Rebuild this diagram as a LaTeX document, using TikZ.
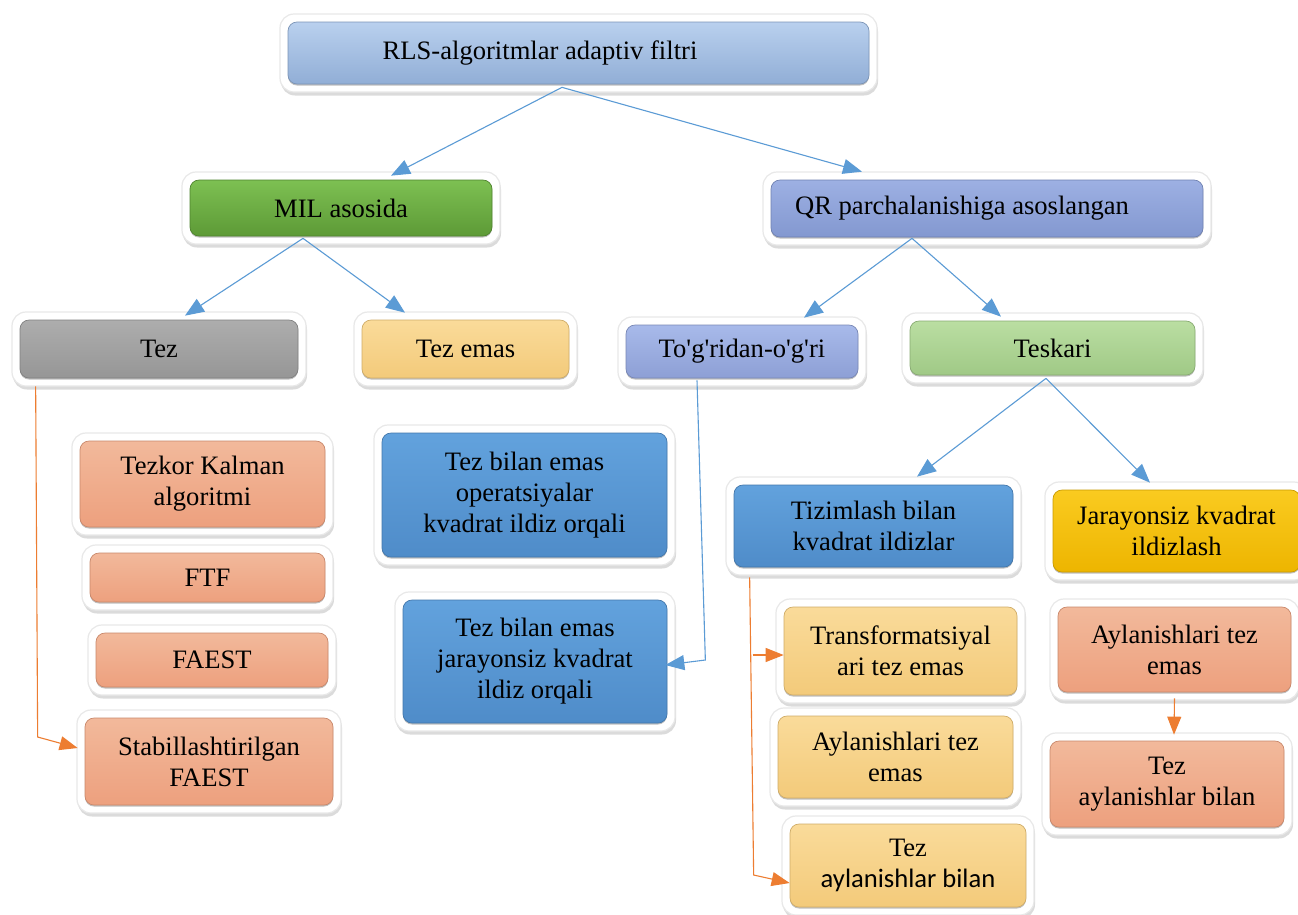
\documentclass[tikz,border=0pt]{standalone}
\usepackage{fontspec}
\setmainfont{Liberation Serif}
\newfontfamily\calib{Carlito}
\usetikzlibrary{arrows.meta,shadows,calc}
\definecolor{lnblue}{HTML}{5B9BD5}
\definecolor{lnorange}{HTML}{ED7D31}
\definecolor{topT}{HTML}{B9D0EE}\definecolor{topB}{HTML}{91AED6}
\definecolor{grnT}{HTML}{7DC052}\definecolor{grnB}{HTML}{5D9A36}
\definecolor{qrT}{HTML}{9DB0E3}\definecolor{qrB}{HTML}{8398D0}
\definecolor{gryT}{HTML}{ADADAD}\definecolor{gryB}{HTML}{969696}
\definecolor{ylT}{HTML}{FADB9A}\definecolor{ylB}{HTML}{F3CA7A}
\definecolor{tgT}{HTML}{A8BAEA}\definecolor{tgB}{HTML}{8D9FD5}
\definecolor{tsT}{HTML}{BADEA2}\definecolor{tsB}{HTML}{A0C986}
\definecolor{slT}{HTML}{F2B99B}\definecolor{slB}{HTML}{EDA07E}
\definecolor{bluT}{HTML}{62A2DD}\definecolor{bluB}{HTML}{4F8CC9}
\definecolor{goT}{HTML}{FACB20}\definecolor{goB}{HTML}{EDB500}
\tikzset{
  frm/.style={fill=white, draw=black!9, line width=1.2pt, rounded corners=14pt,
    drop shadow={shadow xshift=1pt, shadow yshift=-3.5pt, fill=black, opacity=0.14}},
  inbox/.style={rounded corners=9pt, line width=0.7pt, align=center, inner sep=0pt,
    font=\fontsize{26.6}{31}\selectfont, text=black,
    drop shadow={shadow xshift=0pt, shadow yshift=-1.5pt, fill=black, opacity=0.25}},
  bl/.style={draw=lnblue, line width=1.1pt, -{Triangle[length=19pt,width=15pt]}},
  orl/.style={draw=lnorange, line width=1.1pt, -{Triangle[length=18pt,width=14pt]}}
}
\newcommand\bx[8]{%
  \path[frm] ($(#2,#3)+(-8,-8)$) rectangle ($(#4,#5)+(8,8)$);
  \node[inbox, top color=#6, bottom color=#7, draw=#7!85!black,
    minimum width={(#4-#2)*1pt}, minimum height={(#5-#3)*1pt}]
    (#1) at ({(#2+#4)/2},{(#3+#5)/2}) {#8};
}
\begin{document}
\begin{tikzpicture}[x=1pt,y=-1pt]
\useasboundingbox[fill=white] (0,0) rectangle (1298,914);
% level 0
\bx{top}{288}{22}{869}{84}{topT}{topB}{RLS-algoritmlar adaptiv filtri\hspace*{77pt}}
% level 1
\bx{mil}{190}{180}{492}{236}{grnT}{grnB}{MIL asosida}
\bx{qr}{771}{180}{1203}{237}{qrT}{qrB}{QR parchalanishiga asoslangan\hspace*{50pt}}
% level 2
\bx{tez}{20}{320}{298}{378}{gryT}{gryB}{Tez}
\bx{tezemas}{362}{320}{569}{378}{ylT}{ylB}{Tez emas}
\bx{togri}{626}{325}{858}{378}{tgT}{tgB}{To\textquotesingle g\textquotesingle ridan-o\textquotesingle g\textquotesingle ri}
\bx{teskari}{910}{321}{1195}{375}{tsT}{tsB}{Teskari}
% left column
\bx{kalman}{80}{441}{325}{527}{slT}{slB}{Tezkor Kalman\\algoritmi}
\bx{ftf}{90}{553}{325}{602}{slT}{slB}{FTF}
\bx{faest}{96}{633}{328}{687}{slT}{slB}{FAEST}
\bx{stab}{85}{718}{333}{805}{slT}{slB}{Stabillashtirilgan\\FAEST}
% middle column
\bx{oper}{382}{433}{667}{557}{bluT}{bluB}{Tez bilan emas\\operatsiyalar\\kvadrat ildiz orqali}
\bx{jar1}{403}{600}{667}{723}{bluT}{bluB}{Tez bilan emas\\jarayonsiz kvadrat\\ildiz orqali}
% right part
\bx{tiz}{734}{485}{1013}{567}{bluT}{bluB}{Tizimlash bilan\\kvadrat ildizlar}
\bx{jar2}{1053}{490}{1300}{572}{goT}{goB}{Jarayonsiz kvadrat\\ildizlash}
\bx{trans}{784}{607}{1017}{695}{ylT}{ylB}{Transformatsiyal\\ari tez emas}
\bx{ayl1}{778}{716}{1013}{798}{ylT}{ylB}{Aylanishlari tez\\emas}
\bx{tezayl1}{790}{824}{1026}{907}{ylT}{ylB}{Tez\\{\calib aylanishlar bilan}}
\bx{ayl2}{1058}{607}{1291}{692}{slT}{slB}{Aylanishlari tez\\emas}
\bx{tezayl2}{1050}{741}{1284}{827}{slT}{slB}{Tez\\aylanishlar bilan}
% blue connectors
\draw[bl] ($(top.south)+(-16.5,3)$) -- ($(mil.north)+(50,-4)$);
\draw[bl] ($(top.south)+(-16.5,3)$) -- ($(qr.north)+(-125,-8)$);
\draw[bl] ($(mil.south)+(-38,2)$) -- ($(tez.north)+(26,-4)$);
\draw[bl] ($(mil.south)+(-38,2)$) -- ($(tezemas.north)+(-60.5,-7)$);
\draw[bl] ($(qr.south)+(-75,1)$) -- ($(togri.north)+(62,-7)$);
\draw[bl] ($(qr.south)+(-75,1)$) -- ($(teskari.north)+(-51.5,-4)$);
\draw[bl] ($(teskari.south)+(-6.5,3)$) -- ($(tiz.north)+(43.5,-8)$);
\draw[bl] ($(teskari.south)+(-6.5,3)$) -- ($(jar2.north)+(-26.5,-7)$);
\draw[bl] ($(togri.south)+(-45,2)$) -- ($(jar1.east)+(38,-1.5)$) -- ($(jar1.east)+(-2,3.5)$);
% orange connectors
\draw[orl] ($(tez.south west)+(16,8)$) -- ($(stab.west)+(-47,-24.5)$) -- ($(stab.west)+(-7,-13.5)$);
\draw[orl] ($(tiz.south west)+(16,10)$) -- ($(tezayl1.west)+(-36,9.5)$) -- ($(tezayl1.west)+(0,17.5)$);
\draw[orl] ($(trans.west)+(-31,4)$) -- ($(trans.west)+(0,4)$);
\draw[orl] ($(ayl2.south)+(0,6)$) -- ($(tezayl2.north)+(7,-6)$);
\end{tikzpicture}
\end{document}
